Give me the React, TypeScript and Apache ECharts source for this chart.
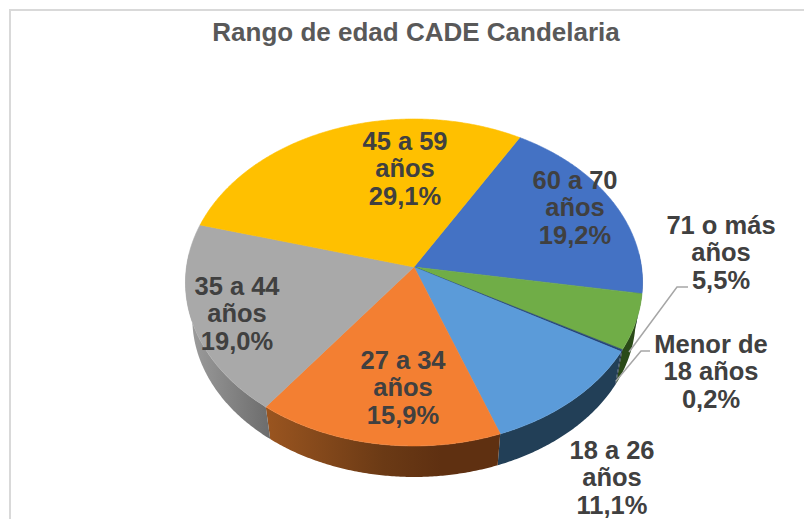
import React, { useEffect, useRef } from "react";
import * as echarts from "echarts";

const titleText = "Rango de edad CADE Candelaria";
const categories = [
  "60 a 70\naños",
  "71 o más\naños",
  "Menor de\n18 años",
  "18 a 26\naños",
  "27 a 34\naños",
  "35 a 44\naños",
  "45 a 59\naños",
];
const shares = [19.2, 5.5, 0.2, 11.1, 15.9, 19.0, 29.1];

const topColors = ["#4472C4", "#70AD47", "#264478", "#5B9BD9", "#F37F32", "#A9A9A9", "#FFC000"];
const wallStops: [number, string][][] = [
  [[0, "#223A64"], [1, "#223A64"]],
  [[0, "#2A4A18"], [1, "#2A4A18"]],
  [[0, "#14243F"], [1, "#14243F"]],
  [[0, "#223F57"], [1, "#223F57"]],
  [[0, "#9A5520"], [0.5, "#6B3A15"], [0.75, "#5F3011"], [1, "#5F3011"]],
  [[0, "#9C9C9C"], [1, "#6C6C6C"]],
  [[0, "#A08000"], [1, "#A08000"]],
];
const wallGradientX: [number, number][] = [
  [600, 650], [600, 650], [600, 650], [490, 620], [266, 500], [190, 270], [180, 240],
];
const labelCenters: [number, number][] = [
  [575, 207], [721, 252], [711, 371], [612, 477], [403, 387], [237, 313], [405, 168],
];
const leaderLines: [number, number][][] = [
  [[688, 287], [677, 287], [629, 352]],
  [[650, 351], [641, 351], [616, 381]],
];

const START_DEG = 30.2;
const CX = 414;
const CY = 267;
const RX = 227.5;
const RY = 162;
const PERSP = 0.0947;
const BASE_SCALE = 0.97;
const BASE_CY = 303.4;

const rad = (deg: number) => (deg * Math.PI) / 180;
function rim(deg: number): [number, number] {
  const w = 1 + PERSP * Math.cos(rad(deg));
  return [CX + (RX * Math.sin(rad(deg))) / w, CY - (RY * Math.cos(rad(deg))) / w];
}
function baseRim(deg: number): [number, number] {
  const [x, y] = rim(deg);
  return [CX + BASE_SCALE * (x - CX), BASE_CY + BASE_SCALE * (y - CY)];
}
function sliceRange(i: number): [number, number] {
  let sum = 0;
  for (let k = 0; k < i; k++) sum += shares[k];
  return [START_DEG + sum * 3.6, START_DEG + (sum + shares[i]) * 3.6];
}
function sample(a: number, b: number): number[] {
  const n = Math.max(1, Math.ceil((b - a) / 0.5));
  const out: number[] = [];
  for (let j = 0; j <= n; j++) out.push(a + ((b - a) * j) / n);
  return out;
}

export default function App() {
  const ref = useRef<HTMLDivElement>(null);
  useEffect(() => {
    const chart = echarts.init(ref.current!, null, { renderer: "svg", width: 804, height: 519 });
    const font = "Liberation Sans";
    chart.setOption({
      animation: false,
      backgroundColor: "#ffffff",
      title: {
        text: titleText,
        left: 411,
        top: 14,
        textAlign: "center",
        textStyle: { fontFamily: font, fontSize: 26, fontWeight: "bold", color: "#595959" },
      },
      graphic: [
        { type: "line", shape: { x1: 9, y1: 10, x2: 804, y2: 10 }, style: { stroke: "#D9D9D9", lineWidth: 2 } },
        { type: "line", shape: { x1: 10, y1: 9, x2: 10, y2: 519 }, style: { stroke: "#D9D9D9", lineWidth: 2 } },
      ],
      series: [
        {
          type: "custom",
          coordinateSystem: "none",
          silent: true,
          z: 1,
          data: shares,
          renderItem: (params: any) => {
            const i = params.dataIndex;
            const [a0, b0] = sliceRange(i);
            const a = Math.max(a0, 85);
            const b = Math.min(b0, 275);
            if (b <= a) return { type: "group", children: [] };
            const ts = sample(a, b);
            const points = [...ts.map(rim), ...ts.slice().reverse().map(baseRim)];
            const [gx0, gx1] = wallGradientX[i];
            return {
              type: "polygon",
              shape: { points },
              style: {
                fill: {
                  type: "linear",
                  global: true,
                  x: gx0,
                  y: 0,
                  x2: gx1,
                  y2: 0,
                  colorStops: wallStops[i].map(([offset, color]) => ({ offset, color })),
                },
              },
            };
          },
        },
        {
          type: "custom",
          coordinateSystem: "none",
          silent: true,
          z: 2,
          data: shares,
          renderItem: (params: any) => {
            const i = params.dataIndex;
            const [a, b] = sliceRange(i);
            const points = [[CX, CY], ...sample(a, b).map(rim)];
            return {
              type: "polygon",
              shape: { points },
              style: { fill: topColors[i], stroke: topColors[i], lineWidth: 0.6 },
            };
          },
        },
        {
          type: "custom",
          coordinateSystem: "none",
          silent: true,
          z: 3,
          data: leaderLines.map((_, i) => i),
          renderItem: (params: any) => ({
            type: "polyline",
            shape: { points: leaderLines[params.dataIndex] },
            style: { stroke: "#A6A6A6", lineWidth: 1.5, fill: "none" },
          }),
        },
        {
          type: "custom",
          coordinateSystem: "none",
          silent: true,
          z: 4,
          data: shares,
          renderItem: (params: any) => {
            const i = params.dataIndex;
            const pct = shares[i].toFixed(1).replace(".", ",") + "%";
            return {
              type: "text",
              x: labelCenters[i][0],
              y: labelCenters[i][1],
              style: {
                text: categories[i] + "\n" + pct,
                fontFamily: font,
                fontSize: 25.5,
                fontWeight: "bold",
                lineHeight: 27.5,
                fill: "#404040",
                textAlign: "center",
                textVerticalAlign: "middle",
              },
            };
          },
        },
      ],
    });
    return () => chart.dispose();
  }, []);
  return <div ref={ref} style={{ position: "fixed", left: 0, top: 0, width: 804, height: 519 }} />;
}
